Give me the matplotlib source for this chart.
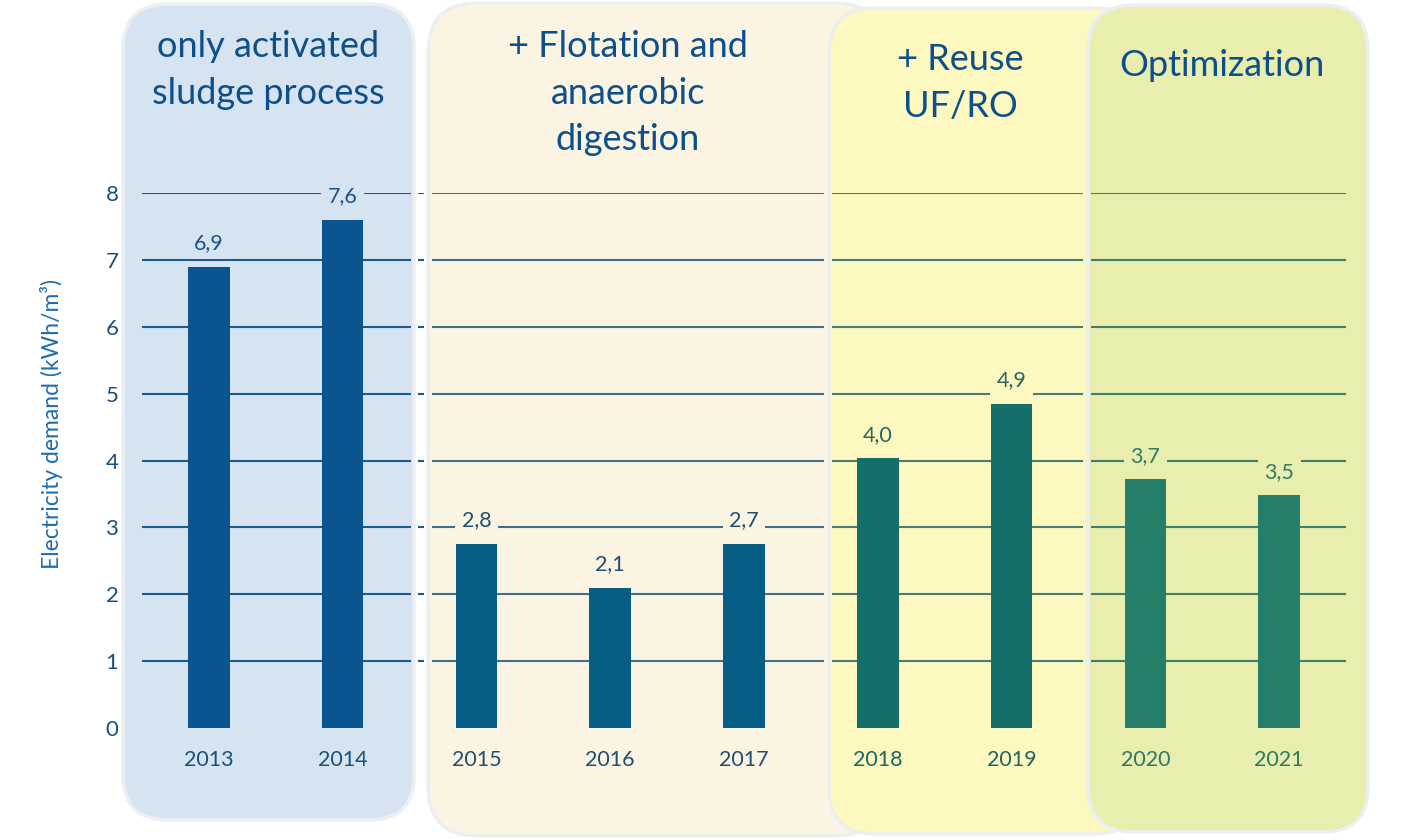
import matplotlib
matplotlib.use("Agg")
import matplotlib.pyplot as plt
from matplotlib.patches import FancyBboxPatch
from matplotlib.transforms import IdentityTransform, blended_transform_factory

# ---------------- data ----------------
years = ["2013", "2014", "2015", "2016", "2017", "2018", "2019", "2020", "2021"]
values = [6.9, 7.6, 2.75, 2.1, 2.75, 4.03, 4.85, 3.72, 3.48]
value_labels = ["6,9", "7,6", "2,8", "2,1", "2,7", "4,0", "4,9", "3,7", "3,5"]
phase_of_year = [0, 0, 1, 1, 1, 2, 2, 3, 3]
phase_titles = ["only activated\nsludge process",
                "+ Flotation and\nanaerobic\ndigestion",
                "+ Reuse\nUF/RO",
                "Optimization"]
yticks = [0, 1, 2, 3, 4, 5, 6, 7, 8]
ylabel = "Electricity demand (kWh/m³)"

# ---------------- style ----------------
W, H = 1409, 840
FONT = "Lato"
plt.rcParams["font.family"] = [FONT, "DejaVu Sans"]

panel_face = ["#d6e4f1", "#fcf4e3", "#fdf7c0", "#e9edae"]
panel_edge = "#eceff2"
# panel boxes in pixels (x0, y_top, x1, y_bottom)
panel_box = [(123, 4, 414, 820), (428, 3, 885, 836), (829, 8, 1140, 834), (1088, 5, 1368, 832)]
panel_radius = [45, 50, 45, 45]
title_pos = [(268, 70), (628, 93), (960, 83), (1222, 65)]
bar_color = ["#0a548f", "#085d87", "#166e6b", "#267f6a"]
label_color = ["#1e5285", "#1f4f70", "#2a6660", "#2f7b66"]
tick_color = ["#1b4f7c", "#1f4f6e", "#1f6660", "#2b7a63"]
grid_color = ["#1b5a8c", "#3d6f8a", "#4a7c78", "#3f7f6e"]
grid_segments = [(142, 411), (432, 824), (832, 1083), (1091, 1346)]
title_color = "#0d4f8b"

fig = plt.figure(figsize=(W / 100, H / 100), dpi=100)
fig.patch.set_facecolor("white")

# background phase panels (pixel coordinates)
for i, (x0, yt, x1, yb) in enumerate(panel_box):
    p = FancyBboxPatch((x0, H - yb), x1 - x0, yb - yt,
                       boxstyle=f"round,pad=0,rounding_size={panel_radius[i]}",
                       transform=IdentityTransform(), facecolor=panel_face[i],
                       edgecolor=panel_edge, linewidth=2.5, zorder=-10 + i)
    fig.add_artist(p)

for i, t in enumerate(phase_titles):
    x, y = title_pos[i]
    fig.text(x / W, 1 - y / H, t, ha="center", va="center", multialignment="center",
             fontsize=26, color=title_color, linespacing=1.5, family=[FONT, "DejaVu Sans"])

ax = fig.add_axes([142 / W, (H - 728) / H, (1346 - 142) / W, (728 - 193) / H])
ax.patch.set_visible(False)
ax.set_xlim(-0.5, 8.5)
ax.set_ylim(0, 8)
for s in ax.spines.values():
    s.set_visible(False)

# gridlines, one segment per panel
gtrans = blended_transform_factory(IdentityTransform(), ax.transData)
for k, (a, b) in enumerate(grid_segments):
    ax.hlines(yticks[1:], a, b, colors=grid_color[k], linewidth=1.5, transform=gtrans, zorder=1)
ax.hlines(yticks[1:], 418, 424, colors=grid_color[0], linewidth=1.5, transform=gtrans, zorder=1)

xs = list(range(len(years)))
ax.bar(xs, values, width=0.31, color=[bar_color[p] for p in phase_of_year], zorder=3)

for i, (v, lab) in enumerate(zip(values, value_labels)):
    p = phase_of_year[i]
    ax.annotate(lab, (i, v), xytext=(0, 17), textcoords="offset points",
                ha="center", va="center", fontsize=15.5, color=label_color[p],
                bbox=dict(boxstyle="square,pad=0.3", facecolor=panel_face[p], edgecolor="none"),
                zorder=4, annotation_clip=False)

ax.set_xticks(xs)
ax.set_xticklabels(years, fontsize=15.5)
for tl, p in zip(ax.get_xticklabels(), phase_of_year):
    tl.set_color(tick_color[p])
ax.set_yticks(yticks)
ax.set_yticklabels([str(t) for t in yticks], fontsize=16, color="#1d4e7e")
ax.tick_params(axis="both", length=0)
ax.tick_params(axis="x", pad=16)
ax.tick_params(axis="y", pad=17)

ax.set_ylabel(ylabel, fontsize=16.5, color="#1f6db0")
ax.yaxis.set_label_coords((63 - 142) / (1346 - 142), 0.568)

fig.savefig("out.png", dpi=100, facecolor="white")
